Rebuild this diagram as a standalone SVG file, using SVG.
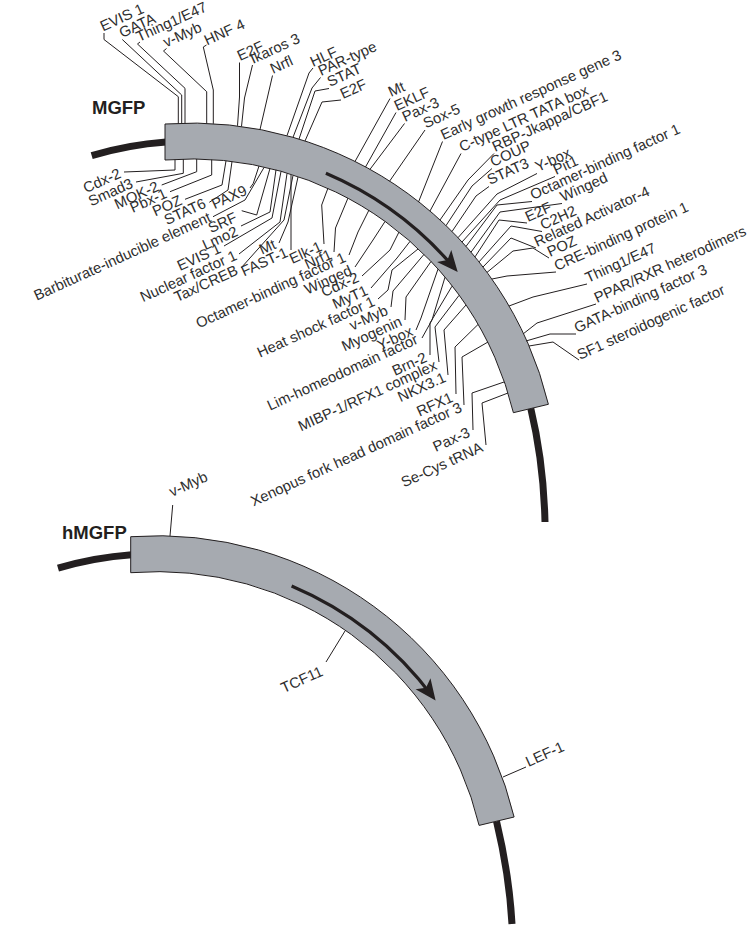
<svg xmlns="http://www.w3.org/2000/svg" width="748" height="934" viewBox="0 0 748 934">
<style>
.t{font-family:"Liberation Sans",Arial,sans-serif;font-size:14.8px;fill:#2e2e2e}
.e{text-anchor:end}
.ld{fill:none;stroke:#231f20;stroke-width:1}
.band{fill:#a6aab0;stroke:#231f20;stroke-width:1}
.dna{fill:none;stroke:#231f20;stroke-width:7}
.arr{fill:none;stroke:#231f20;stroke-width:3.2}
.h{font-family:"Liberation Sans",Arial,sans-serif;font-size:18.5px;font-weight:bold;fill:#231f20}
</style>
<defs>
<marker id="ah" markerUnits="userSpaceOnUse" viewBox="-22 -10 24 20" refX="-5" refY="0" markerWidth="24" markerHeight="20" orient="auto">
<path d="M0,0 L-21,-9.3 L-16,0 L-21,9.3 Z" fill="#231f20"/>
</marker>
</defs>
<rect width="748" height="934" fill="#fff"/>

<g id="mgfp">
<text class="h" x="92" y="114">MGFP</text>
<path class="dna" d="M91.7,155.6 A349,349 0 0 1 166,142"/>
<path class="dna" d="M530.8,408.5 Q543.6,462 545,522"/>
<path class="band" d="M165,124 A367,367 0 0 1 548.4,404.3 L513.4,412.7 A331,331 0 0 0 165,160 Z"/>
<path class="arr" marker-end="url(#ah)" d="M325.9,173.3 A344,344 0 0 1 454.5,268.3"/>
</g>

<g id="hmgfp">
<text class="h" x="62" y="539">hMGFP</text>
<path class="dna" d="M58,568.1 A349,349 0 0 1 131.7,554.7"/>
<path class="dna" d="M496.5,821.2 Q509.3,874.7 512,924"/>
<path class="band" d="M130.7,536.7 A367,367 0 0 1 514.1,817 L479.1,825.4 A331,331 0 0 0 130.7,572.7 Z"/>
<path class="arr" marker-end="url(#ah)" d="M291.6,586 A344,344 0 0 1 432.6,696.6"/>
</g>

<g id="connectors" class="ld">
<path d="M104,33 V39.5 L178.3,96.7 V123.5"/>
<path d="M122.3,39.5 L181.7,95 V123.3"/>
<path d="M140,42 L137.5,44 L185,88.3 V123.2"/>
<path d="M166.5,48.5 L163.5,51 L206.7,91.7 V123.5"/>
<path d="M206.5,45 L203.3,47 L213.3,90 V123.8"/>
<path d="M239.5,62.5 V97 L237.5,125.8"/>
<path d="M252.5,65 L244.5,98 L241.5,126.4"/>
<path d="M272.5,75.5 L260,129.5"/>
<path d="M313,68 L309,73 L287,135.6"/>
<path d="M320.5,77.5 L312,88 L293,137.3"/>
<path d="M329,88.5 L315,91 L299,139.1"/>
<path d="M341,100 L322,102 L305,141"/>
<path d="M390,98.5 L355,161.5"/>
<path d="M396,112.5 L365.5,167"/>
<path d="M404.5,123.5 L370,169.3"/>
<path d="M425,130 L389.5,181.3"/>
<path d="M442.5,141.5 L418.5,202"/>
<path d="M461,153.5 L430,211"/>
<path d="M494,153.5 L468,180 L440,220"/>
<path d="M492,168.5 L472,186 L446,225.6"/>
<path d="M489,186.5 L476,196 L452,231.5"/>
<path d="M537,173.5 L497,194 L458,237.7"/>
<path d="M555,176.5 L500,200 L462,242"/>
<path d="M532,201.5 L497,205 L466,246.4"/>
<path d="M562,203.5 L500,212 L471,252.2"/>
<path d="M527,223 L499,220 L475,256.9"/>
<path d="M542,231.5 L511,226 L479,261.9"/>
<path d="M536,248 L511,238 L483,267"/>
<path d="M549,258 L533,248 L513,251 L487,272.4"/>
<path d="M556,272 L507,276 L492,279"/>
<path d="M587,284 L533,297 L509,306"/>
<path d="M596,304 L537,323 L523,334"/>
<path d="M576,334 L550,334 L526,341"/>
<path d="M579,360 L553,342 L529,346"/>
<path d="M124,172 L175,170 V159.6"/>
<path d="M136,182 L183.3,173.3 V159.1"/>
<path d="M161.7,185 L196.7,171.7 V159"/>
<path d="M170,191.7 L211.7,175 V159.6"/>
<path d="M185,199.3 L222,185 L226,160.8"/>
<path d="M209.3,202.3 L228,190 L232,161.5"/>
<path d="M250,188 L253.3,183.3 L259,166"/>
<path d="M213,216.7 L245,200 L264,167.5"/>
<path d="M241.7,210.7 L256.7,215 L270,168.4"/>
<path d="M241,226 L270,212 L276,169.8"/>
<path d="M224,246 L272,218 L281,171.5"/>
<path d="M239,254 L280,222 L287,173.5"/>
<path d="M241,268 L284,220 L293,175.5"/>
<path d="M279,243 L288,222 L298,177"/>
<path d="M291,250 V175"/>
<path d="M324,244 L321.7,205 L328,188"/>
<path d="M334,252 L335.5,228 L348,198"/>
<path d="M349,255 L358,232 L369,210"/>
<path d="M355,267 L373,240 L385,221.5"/>
<path d="M362,276 L390,250 L399,232"/>
<path d="M371,288 L397,258 L410,241.4"/>
<path d="M378,299 L388,290 L392,270 L418,249"/>
<path d="M391,307 L393,291 L424,254.4"/>
<path d="M405,320 L406,297 L431,261.5"/>
<path d="M416,330 L421,318 L438,269.1"/>
<path d="M422,338 L432,320 L445,277.2"/>
<path d="M430,355 L430,323 L452,286.2"/>
<path d="M439,362 L435,327 L459,295.4"/>
<path d="M448,375 L444,330 L466,305"/>
<path d="M456,394 L455,347 L478,324.5"/>
<path d="M464,405 L462,357 L488,342"/>
<path d="M473,430 L472,393 L504,382"/>
<path d="M486,445 L482,403 L508,393"/>
<path d="M172.7,505 L170,536"/>
<path d="M326,662 L345,631"/>
<path d="M526,767 L503,777"/>
</g>

<g id="labels-top-left" class="t">
<text transform="translate(103 31.5) rotate(-24.5)">EVIS 1</text>
<text transform="translate(122 38) rotate(-24.5)">GATA</text>
<text transform="translate(139 42) rotate(-24.5)">Thing1/E47</text>
<text transform="translate(166 47.5) rotate(-24.5)">v-Myb</text>
<text transform="translate(207 45.5) rotate(-24.5)">HNF 4</text>
<text transform="translate(240 61) rotate(-24.5)">E2F</text>
<text transform="translate(253 64) rotate(-24.5)">Ikaros 3</text>
<text transform="translate(273 74) rotate(-24.5)">Nrfl</text>
<text transform="translate(313 67) rotate(-24.5)">HLF</text>
<text transform="translate(321 76) rotate(-24.5)">PAR-type</text>
<text transform="translate(330 87) rotate(-24.5)">STAT</text>
<text transform="translate(343 99) rotate(-24.5)">E2F</text>
</g>

<g id="labels-top-right" class="t">
<text transform="translate(391 97) rotate(-24.5)">Mt</text>
<text transform="translate(397 111) rotate(-24.5)">EKLF</text>
<text transform="translate(405 122) rotate(-24.5)">Pax-3</text>
<text transform="translate(426 128.5) rotate(-24.5)">Sox-5</text>
<text transform="translate(443.5 140) rotate(-24.5)">Early growth response gene 3</text>
<text transform="translate(462 152) rotate(-24.5)">C-type LTR TATA box</text>
<text transform="translate(495 152) rotate(-24.5)">RBP-Jkappa/CBF1</text>
<text transform="translate(493 167) rotate(-24.5)">COUP</text>
<text transform="translate(490 185) rotate(-24.5)">STAT3</text>
<text transform="translate(538 172) rotate(-24.5)">Y-box</text>
<text transform="translate(556 175) rotate(-24.5)">Pit1</text>
<text transform="translate(533 200) rotate(-24.5)">Octamer-binding factor 1</text>
<text transform="translate(563 202) rotate(-24.5)">Winged</text>
<text transform="translate(528 222) rotate(-24.5)">E2F</text>
<text transform="translate(543 230) rotate(-24.5)">C2H2</text>
<text transform="translate(537 247) rotate(-24.5)">Related Activator-4</text>
<text transform="translate(550 257) rotate(-24.5)">POZ</text>
<text transform="translate(557 271) rotate(-24.5)">CRE-binding protein 1</text>
<text transform="translate(588 283) rotate(-24.5)">Thing1/E47</text>
<text transform="translate(597 303) rotate(-24.5)">PPAR/RXR heterodimers</text>
<text transform="translate(577 333) rotate(-24.5)">GATA-binding factor 3</text>
<text transform="translate(580 360) rotate(-24.5)">SF1 steroidogenic factor</text>
</g>

<g id="labels-bottom" class="t e">
<text transform="translate(122 177) rotate(-24.5)">Cdx-2</text>
<text transform="translate(134 187) rotate(-24.5)">Smad3</text>
<text transform="translate(160 190) rotate(-24.5)">MOK-2</text>
<text transform="translate(168 197) rotate(-24.5)">Pbx-1</text>
<text transform="translate(183 204) rotate(-24.5)">POZ</text>
<text transform="translate(207 207) rotate(-24.5)">STAT6</text>
<text transform="translate(248 194) rotate(-24.5)">PAX9</text>
<text transform="translate(212 221) rotate(-24.5)">Barbiturate-inducible element</text>
<text transform="translate(238 221) rotate(-24.5)">SRF</text>
<text transform="translate(239 235) rotate(-24.5)">Lmo2</text>
<text transform="translate(222 252) rotate(-24.5)">EVIS 1</text>
<text transform="translate(238 259) rotate(-24.5)">Nuclear factor 1</text>
<text transform="translate(239 274) rotate(-24.5)">Tax/CREB</text>
<text transform="translate(277 248) rotate(-24.5)">Mt</text>
<text transform="translate(289 256) rotate(-24.5)">FAST-1</text>
<text transform="translate(323 250) rotate(-24.5)">Elk-1</text>
<text transform="translate(333 258) rotate(-24.5)">Nrf1</text>
<text transform="translate(347 261) rotate(-24.5)">Octamer-binding factor 1</text>
<text transform="translate(353 274) rotate(-24.5)">Winged</text>
<text transform="translate(360 281) rotate(-24.5)">Cdx-2</text>
<text transform="translate(369 294) rotate(-24.5)">MyT1</text>
<text transform="translate(376 305) rotate(-24.5)">Heat shock factor 1</text>
<text transform="translate(389 314) rotate(-24.5)">v-Myb</text>
<text transform="translate(403 325) rotate(-24.5)">Myogenin</text>
<text transform="translate(414 335) rotate(-24.5)">Y-box</text>
<text transform="translate(419 343) rotate(-24.5)">Lim-homeodomain factor</text>
<text transform="translate(428 361) rotate(-24.5)">Brn-2</text>
<text transform="translate(438 369) rotate(-24.5)">MIBP-1/RFX1 complex</text>
<text transform="translate(447 381) rotate(-24.5)">NKX3.1</text>
<text transform="translate(454 401) rotate(-24.5)">RFX1</text>
<text transform="translate(463 411) rotate(-24.5)">Xenopus fork head domain factor 3</text>
<text transform="translate(471 436) rotate(-24.5)">Pax-3</text>
<text transform="translate(484 451) rotate(-24.5)">Se-Cys tRNA</text>
</g>

<g id="labels-hmgfp" class="t">
<text transform="translate(172 497) rotate(-24.5)">v-Myb</text>
<text class="e" transform="translate(324 675) rotate(-24.5)">TCF11</text>
<text transform="translate(528.5 767) rotate(-24.5)">LEF-1</text>
</g>
</svg>
